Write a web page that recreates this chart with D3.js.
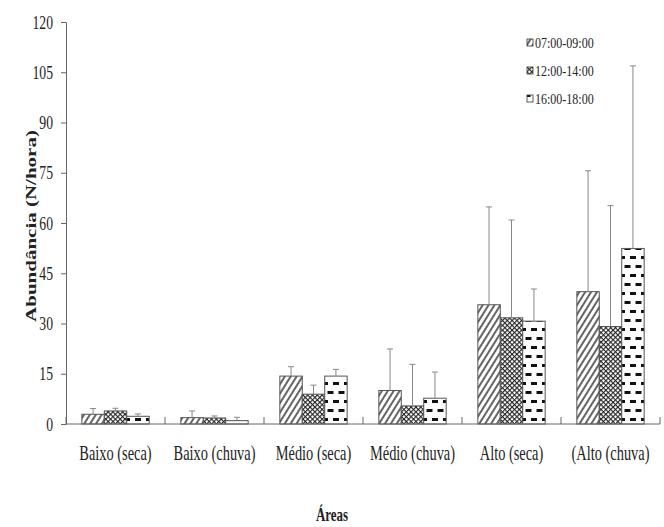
<!DOCTYPE html>
<html>
<head>
<meta charset="utf-8">
<script src="https://cdn.jsdelivr.net/npm/d3@7"></script>
<style>
  html, body { margin: 0; padding: 0; background: #fff; }
  svg { display: block; }
  text { font-family: "Liberation Serif", "Times New Roman", serif; fill: #222; }
</style>
</head>
<body>
<svg id="chart" width="664" height="527"></svg>
<script>
// Abundance (N/hour) per area and sampling period, with upper standard deviation
const categories = ["Baixo (seca)", "Baixo (chuva)", "Médio (seca)", "Médio (chuva)", "Alto (seca)", "(Alto (chuva)"];
const periods = ["07:00-09:00", "12:00-14:00", "16:00-18:00"];
const mean0709 = [2.9, 1.9, 14.3, 10.0, 35.6, 39.5];
const mean1214 = [3.9, 1.8, 8.9, 5.4, 31.7, 29.1];
const mean1618 = [2.3, 1.0, 14.3, 7.7, 30.7, 52.4];
const sd0709 = [1.7, 2.0, 2.8, 12.4, 29.2, 36.1];
const sd1214 = [0.8, 0.6, 2.7, 12.4, 29.2, 36.1];
const sd1618 = [0.7, 1.0, 2.0, 7.8, 9.6, 54.5];
const yTicks = [0, 15, 30, 45, 60, 75, 90, 105, 120];

const means = [mean0709, mean1214, mean1618];
const sds = [sd0709, sd1214, sd1618];
const rows = [];
categories.forEach((c, i) => periods.forEach((p, j) => {
  rows.push({ cat: c, period: p, k: j, mean: means[j][i], sd: sds[j][i] });
}));

const svg = d3.select("#chart");
const W = 664, H = 527;
const plotL = 66, plotR = 660, plotT = 22, plotB = 424;
const sx = 0.72; // narrow type

const x = d3.scaleBand().domain(categories).range([plotL, plotR]).padding(0);
const groupW = x.bandwidth() * 0.68;
const xi = d3.scaleBand().domain(periods)
  .range([(x.bandwidth() - groupW) / 2, (x.bandwidth() + groupW) / 2]).padding(0);
const y = d3.scaleLinear().domain([0, 120]).range([plotB, plotT]);

// fill patterns
const defs = svg.append("defs");
const pHatch = defs.append("pattern").attr("id", "pat0")
  .attr("patternUnits", "userSpaceOnUse").attr("width", 5).attr("height", 5)
  .attr("patternTransform", "rotate(32)");
pHatch.append("rect").attr("width", 5).attr("height", 5).attr("fill", "#fff");
pHatch.append("line").attr("x1", 1).attr("y1", 0).attr("x2", 1).attr("y2", 5)
  .attr("stroke", "#111").attr("stroke-width", 1.3);

const pCross = defs.append("pattern").attr("id", "pat1")
  .attr("patternUnits", "userSpaceOnUse").attr("width", 3.4).attr("height", 3.4)
  .attr("patternTransform", "rotate(45)");
pCross.append("rect").attr("width", 3.4).attr("height", 3.4).attr("fill", "#fff");
pCross.append("line").attr("x1", 0.5).attr("y1", 0).attr("x2", 0.5).attr("y2", 3.4)
  .attr("stroke", "#222").attr("stroke-width", 1.2);
pCross.append("line").attr("x1", 0).attr("y1", 0.5).attr("x2", 3.4).attr("y2", 0.5)
  .attr("stroke", "#222").attr("stroke-width", 1.2);

const pDash = defs.append("pattern").attr("id", "pat2")
  .attr("patternUnits", "userSpaceOnUse").attr("width", 11).attr("height", 18)
  .attr("x", 0).attr("y", 3);
pDash.append("rect").attr("width", 11).attr("height", 18).attr("fill", "#fff");
[[3, 1], [-2.5, 10], [8.5, 10]].forEach(([dx, dy]) => {
  pDash.append("rect").attr("x", dx).attr("y", dy).attr("width", 6).attr("height", 3)
    .attr("fill", "#111");
});
const fills = ["url(#pat0)", "url(#pat1)", "url(#pat2)"];

// bars
const g = svg.append("g");
g.selectAll("rect.bar").data(rows).join("rect").attr("class", "bar")
  .attr("x", d => x(d.cat) + xi(d.period))
  .attr("width", xi.bandwidth())
  .attr("y", d => y(d.mean))
  .attr("height", d => y(0) - y(d.mean))
  .attr("fill", d => fills[d.k])
  .attr("stroke", "#555").attr("stroke-width", 1);

// upper error bars
const eb = g.selectAll("g.err").data(rows).join("g").attr("class", "err")
  .attr("stroke", "#888").attr("stroke-width", 1);
eb.append("line")
  .attr("x1", d => x(d.cat) + xi(d.period) + xi.bandwidth() / 2)
  .attr("x2", d => x(d.cat) + xi(d.period) + xi.bandwidth() / 2)
  .attr("y1", d => y(d.mean))
  .attr("y2", d => y(d.mean + d.sd));
eb.append("line")
  .attr("x1", d => x(d.cat) + xi(d.period) + xi.bandwidth() / 2 - 3)
  .attr("x2", d => x(d.cat) + xi(d.period) + xi.bandwidth() / 2 + 3)
  .attr("y1", d => y(d.mean + d.sd))
  .attr("y2", d => y(d.mean + d.sd));

// y axis
const ya = svg.append("g").attr("transform", `translate(${plotL},0)`)
  .call(d3.axisLeft(y).tickValues(yTicks).tickSize(5).tickSizeOuter(0));
ya.select(".domain").attr("stroke", "#666");
ya.selectAll(".tick line").attr("stroke", "#666");
ya.selectAll(".tick text")
  .attr("font-family", "Liberation Serif, serif").attr("font-size", 19)
  .attr("fill", "#222")
  .attr("x", -13 / sx).attr("transform", `scale(${sx},1)`);

// x axis line and group separators
svg.append("line").attr("x1", plotL).attr("x2", plotR).attr("y1", plotB).attr("y2", plotB)
  .attr("stroke", "#666");
const seps = categories.map(c => x(c)).concat([plotR]);
svg.selectAll("line.sep").data(seps).join("line").attr("class", "sep")
  .attr("x1", d => d).attr("x2", d => d)
  .attr("y1", plotB).attr("y2", plotB - 7)
  .attr("stroke", "#666");

// category labels
svg.selectAll("text.cat").data(categories).join("text").attr("class", "cat")
  .attr("transform", d => `translate(${x(d) + x.bandwidth() / 2},460) scale(${sx},1)`)
  .attr("text-anchor", "middle").attr("font-size", 20)
  .text(d => d);

// axis titles
svg.append("text")
  .attr("transform", `translate(${W / 2},521) scale(${sx},1)`)
  .attr("text-anchor", "middle").attr("font-size", 18).attr("font-weight", "bold")
  .text("Áreas");
svg.append("text")
  .attr("transform", `translate(36,226) rotate(-90) scale(1,${sx})`)
  .attr("text-anchor", "middle").attr("font-size", 21).attr("font-weight", "bold")
  .text("Abundância (N/hora)");

// legend
const lg = svg.append("g").attr("transform", "translate(527,0)");
const li = lg.selectAll("g").data(periods).join("g")
  .attr("transform", (d, i) => `translate(0,${43 + i * 28})`);
li.append("rect").attr("x", 0).attr("y", -4).attr("width", 6).attr("height", 7)
  .attr("fill", (d, i) => fills[i]).attr("stroke", "#333").attr("stroke-width", 0.8);
li.append("text")
  .attr("transform", `translate(8,5) scale(0.8,1)`)
  .attr("font-size", 15)
  .text(d => d);
</script>
</body>
</html>
